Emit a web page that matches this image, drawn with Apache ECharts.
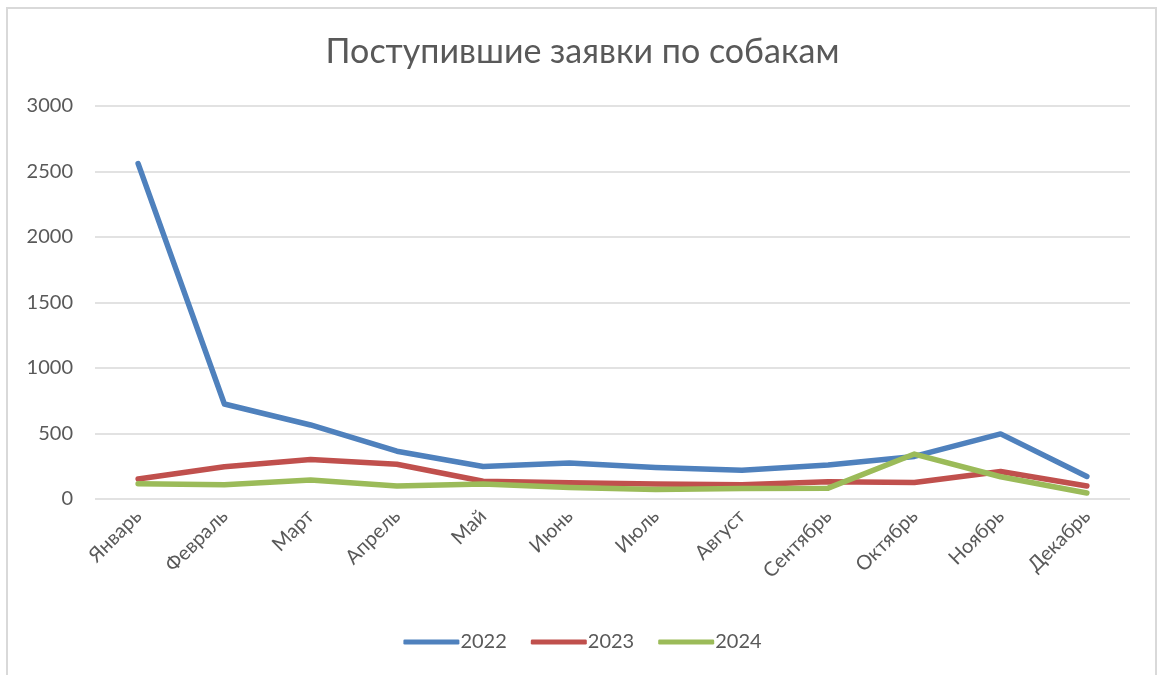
<!DOCTYPE html>
<html>
<head>
<meta charset="utf-8">
<script src="https://cdn.jsdelivr.net/npm/echarts@6/dist/echarts.min.js"></script>
<style>
html,body{margin:0;padding:0;background:#fff;width:1165px;height:675px;overflow:hidden;}
#frame{position:absolute;left:6px;top:7px;width:1151px;height:700px;border:2px solid #d9d9d9;box-sizing:border-box;}
#chart{position:absolute;left:0;top:0;width:1165px;height:675px;}
</style>
</head>
<body>
<div id="frame"></div>
<div id="chart"></div>
<script>
const titleText = 'Поступившие заявки по собакам';
const months = ['Январь','Февраль','Март','Апрель','Май','Июнь','Июль','Август','Сентябрь','Октябрь','Ноябрь','Декабрь'];
const seriesNames = ['2022','2023','2024'];
const values2022 = [2560, 725, 565, 365, 248, 274, 240, 220, 260, 325, 497, 172];
const values2023 = [152, 246, 302, 265, 135, 124, 114, 108, 132, 126, 210, 99];
const values2024 = [117, 109, 145, 100, 114, 88, 72, 80, 83, 343, 170, 46];
const colors = ['#4F81BD', '#C0504D', '#9BBB59'];

const font = 'Lato, "Open Sans", sans-serif';
const chart = echarts.init(document.getElementById('chart'));
const dataSets = [values2022, values2023, values2024];
chart.setOption({
  animation: false,
  title: {
    text: titleText,
    left: 'center',
    top: 30,
    textStyle: {fontFamily: font, fontSize: 34, fontWeight: 'normal', color: '#595959'}
  },
  legend: {
    bottom: 18,
    left: 'center',
    itemWidth: 56,
    itemHeight: 5,
    itemGap: 24,
    icon: 'roundRect',
    textStyle: {fontFamily: font, fontSize: 20, color: '#595959', padding: [0,0,0,-4]},
    data: seriesNames
  },
  grid: {left: 95, right: 35, top: 106, bottom: 176, containLabel: false},
  xAxis: {
    type: 'category',
    data: months,
    boundaryGap: true,
    axisLine: {show: false},
    axisTick: {show: false},
    axisLabel: {rotate: 45, fontFamily: font, fontSize: 20, color: '#595959', margin: 14, interval: 0}
  },
  yAxis: {
    type: 'value',
    min: 0, max: 3000, interval: 500,
    axisLine: {show: false},
    axisTick: {show: false},
    splitLine: {lineStyle: {color: '#d9d9d9', width: 1.5}},
    axisLabel: {fontFamily: font, fontSize: 20, color: '#595959', margin: 22, formatter: v => String(v)}
  },
  series: seriesNames.map((n, i) => ({
    name: n,
    type: 'line',
    data: dataSets[i],
    showSymbol: false,
    symbol: 'none',
    color: colors[i],
    lineStyle: {width: 5.5, color: colors[i], cap: 'round', join: 'round'}
  }))
});
</script>
</body>
</html>
